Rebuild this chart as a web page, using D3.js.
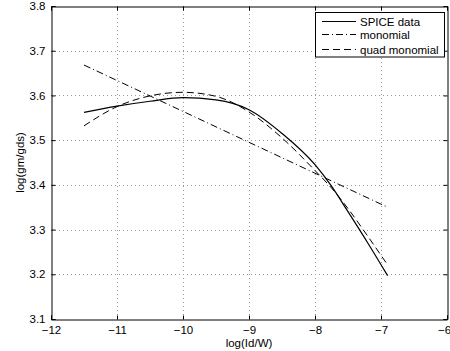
<!DOCTYPE html>
<html>
<head>
<meta charset="utf-8">
<script src="https://cdn.jsdelivr.net/npm/d3@7"></script>
<style>
  html, body { margin: 0; padding: 0; background: #fff; }
  svg { display: block; }
  text { font-family: "Liberation Sans", Arial, Helvetica, sans-serif; fill: #000; }
</style>
</head>
<body>
<svg id="chart" width="450" height="351"></svg>
<script>
// ---- data ----
const logIdW   = [-11.5, -11, -10.5, -10, -9.5, -9, -8.5, -8, -7.75, -7.5, -7.2, -6.9];
const spice    = [3.562, 3.576, 3.587, 3.595, 3.590, 3.568, 3.515, 3.445, 3.397, 3.340, 3.270, 3.197];
const quadMono = [3.532, 3.575, 3.599, 3.607, 3.598, 3.563, 3.505, 3.432, 3.393, 3.347, 3.285, 3.221];
const monoX    = [-11.5, -6.9];
const monoY    = [3.668, 3.350];
const xTicks   = [-12, -11, -10, -9, -8, -7, -6];
const yTicks   = [3.1, 3.2, 3.3, 3.4, 3.5, 3.6, 3.7, 3.8];
const seriesNames = ["SPICE data", "monomial", "quad monomial"];

// ---- layout ----
const L = 51, R = 447, T = 6, B = 319;
const svg = d3.select("#chart");
const x = d3.scaleLinear().domain([-12, -6]).range([L, R]);
const y = d3.scaleLinear().domain([3.1, 3.8]).range([B, T]);
const fmtX = d => (d < 0 ? "\u2212" + Math.abs(d) : String(d));

// grid
const grid = svg.append("g").attr("stroke", "#9a9a9a").attr("stroke-width", 1)
  .attr("stroke-dasharray", "1,3");
xTicks.slice(1, -1).forEach(t => {
  grid.append("line").attr("x1", Math.round(x(t)) + 0.5).attr("x2", Math.round(x(t)) + 0.5)
    .attr("y1", T).attr("y2", B);
});
yTicks.slice(1, -1).forEach(t => {
  grid.append("line").attr("y1", Math.round(y(t)) + 0.5).attr("y2", Math.round(y(t)) + 0.5)
    .attr("x1", L).attr("x2", R);
});

// axes (inward ticks, box)
const axB = svg.append("g").attr("transform", `translate(0,${B + 0.5})`)
  .call(d3.axisBottom(x).tickValues(xTicks).tickSize(-4).tickPadding(6).tickFormat(fmtX));
const axT = svg.append("g").attr("transform", `translate(0,${T + 0.5})`)
  .call(d3.axisTop(x).tickValues(xTicks).tickSize(-4).tickFormat(""));
const axL = svg.append("g").attr("transform", `translate(${L + 0.5},0)`)
  .call(d3.axisLeft(y).tickValues(yTicks).tickSize(-4).tickPadding(6).tickFormat(d3.format(".1f")));
const axR = svg.append("g").attr("transform", `translate(${R + 0.5},0)`)
  .call(d3.axisRight(y).tickValues(yTicks).tickSize(-4).tickFormat(""));
[axB, axT, axL, axR].forEach(a => {
  a.select(".domain").attr("stroke", "#000").attr("stroke-width", 1);
  a.selectAll(".tick line").attr("stroke", "#000");
  a.selectAll("text").style("font-family", "'Liberation Sans', Arial, sans-serif")
    .style("font-size", "11.5px").attr("fill", "#000");
});
axB.selectAll(".tick text").attr("dy", "0.71em").attr("y", 6);
axB.selectAll(".tick").filter(d => d === -6).select("text").attr("x", -3);

// lines
const line = d3.line().x(d => x(d[0])).y(d => y(d[1])).curve(d3.curveMonotoneX);
const plot = svg.append("g").attr("fill", "none").attr("stroke", "#000");
plot.append("path").datum(monoX.map((v, i) => [v, monoY[i]]))
  .attr("d", line).attr("stroke-width", 1).attr("stroke-dasharray", "7,3,1,3");
plot.append("path").datum(logIdW.map((v, i) => [v, quadMono[i]]))
  .attr("d", line).attr("stroke-width", 1).attr("stroke-dasharray", "7,4");
plot.append("path").datum(logIdW.map((v, i) => [v, spice[i]]))
  .attr("d", line).attr("stroke-width", 1.2);

// axis labels
svg.append("text").attr("x", (L + R) / 2).attr("y", 347).attr("text-anchor", "middle")
  .style("font-size", "11.5px").text("log(Id/W)");
svg.append("text").attr("transform", `translate(24,${(T + B) / 2}) rotate(-90)`)
  .attr("text-anchor", "middle").style("font-size", "11.5px").text("log(gm/gds)");

// legend
const lg = svg.append("g");
lg.append("rect").attr("x", 315.5).attr("y", 12.5).attr("width", 129).attr("height", 44.5)
  .attr("fill", "#fff").attr("stroke", "#000").attr("stroke-width", 1);
const rowsY = [21.5, 34.5, 49.5];
const dashes = [null, "7,3,1,3", "7,4"];
seriesNames.forEach((name, i) => {
  const l = lg.append("line").attr("x1", 322).attr("x2", 356).attr("y1", rowsY[i]).attr("y2", rowsY[i])
    .attr("stroke", "#000").attr("stroke-width", i === 0 ? 1.2 : 1);
  if (dashes[i]) l.attr("stroke-dasharray", dashes[i]);
  lg.append("text").attr("x", 360).attr("y", rowsY[i] + 4).style("font-size", "11.5px").text(name);
});
</script>
</body>
</html>
